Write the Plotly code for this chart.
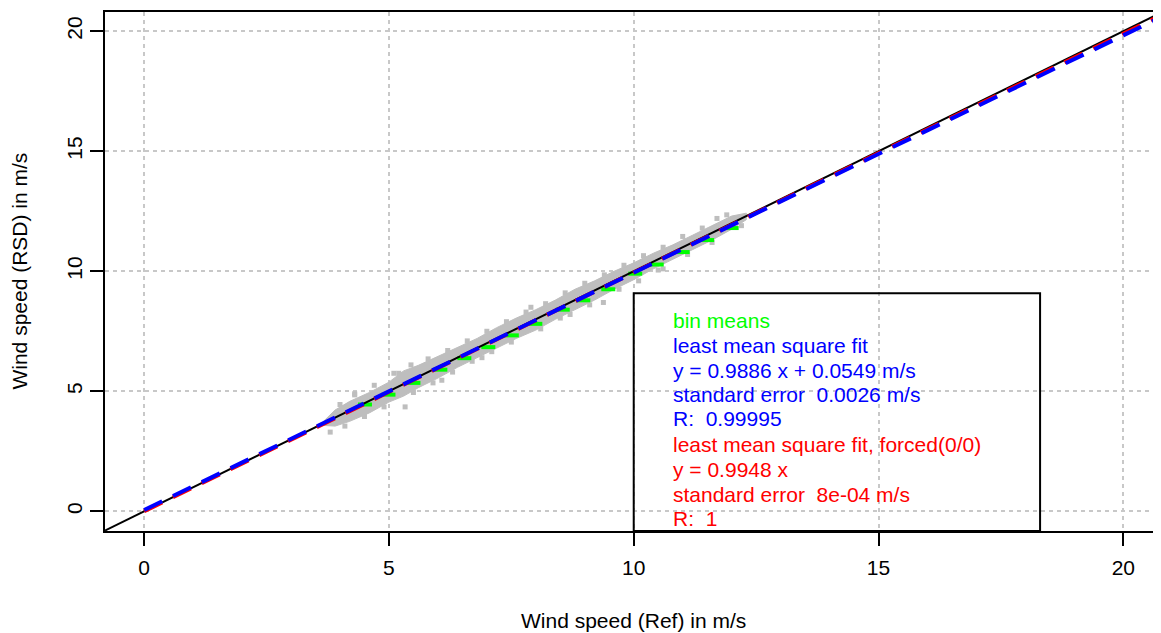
import plotly.graph_objects as go

# ---------------- data ----------------
tick_vals = [0, 5, 10, 15, 20]
tick_text = ["0", "5", "10", "15", "20"]

# scatter cloud outline (RSD vs Ref)
cloud_upper_x = [3.65, 3.9, 4.2, 4.6, 5.0, 5.3, 5.6, 6.0, 6.4, 6.8, 7.2, 7.6, 8.0, 8.4,
                 8.8, 9.2, 9.6, 10.0, 10.4, 10.8, 11.2, 11.6, 12.0, 12.3]
cloud_upper_y = [3.72, 4.22, 4.58, 4.95, 5.38, 5.85, 6.08, 6.45, 6.85, 7.2, 7.65, 8.05,
                 8.4, 8.8, 9.25, 9.6, 10.0, 10.35, 10.75, 11.1, 11.5, 11.9, 12.3, 12.42]
cloud_lower_x = [12.3, 12.0, 11.6, 11.2, 10.8, 10.4, 10.0, 9.6, 9.2, 8.8, 8.4, 8.0, 7.6,
                 7.2, 6.8, 6.4, 6.0, 5.6, 5.3, 5.0, 4.6, 4.2, 3.9, 3.65]
cloud_lower_y = [12.15, 11.75, 11.3, 10.9, 10.5, 10.1, 9.65, 9.25, 8.8, 8.4, 8.0, 7.55,
                 7.2, 6.8, 6.4, 6.0, 5.55, 5.15, 4.8, 4.55, 4.1, 3.75, 3.55, 3.58]
# isolated / edge points of the cloud
outlier_x = [5.33, 6.08, 8.5, 9.38, 4.3, 7.9, 10.6, 11.7, 5.1, 6.9, 3.8,
             4.0, 4.3, 4.7, 5.2, 5.45, 5.8, 6.2, 6.6, 7.0, 7.4, 7.8, 8.2, 8.6, 9.0,
             9.4, 9.8, 10.2, 10.6, 11.0, 11.4, 11.9,
             4.1, 4.5, 4.9, 5.5, 5.9, 6.3, 6.7, 7.1, 7.5, 8.1, 8.7, 9.1, 9.7, 10.1,
             10.5, 11.1, 11.6, 12.2]
outlier_y = [4.35, 5.46, 8.05, 8.7, 4.9, 8.5, 10.1, 12.2, 5.75, 6.4, 3.3,
             4.45, 4.85, 5.25, 5.75, 6.1, 6.35, 6.7, 7.1, 7.5, 7.9, 8.3, 8.65, 9.1, 9.5,
             9.85, 10.25, 10.65, 11.0, 11.45, 11.8, 12.35,
             3.55, 3.95, 4.35, 4.95, 5.35, 5.8, 6.25, 6.65, 7.05, 7.6, 8.2, 8.6, 9.25, 9.6,
             10.05, 10.7, 11.2, 11.9]

# bin means (green)
bin_x = [4.51, 4.99, 5.50, 6.05, 6.54, 7.03, 7.51, 7.99, 8.55, 8.97, 9.48, 10.03, 10.47,
         11.0, 11.5, 12.0]
bin_y = [4.45, 4.86, 5.35, 5.90, 6.38, 6.84, 7.33, 7.81, 8.40, 8.79, 9.25, 9.90, 10.28,
         10.8, 11.3, 11.8]

# fitted lines (end points) and 1:1 line
fit_x = [0.0, 20.8]
lms_y = [0.0549, 20.6178]      # y = 0.9886 x + 0.0549
forced_y = [0.0, 20.6918]      # y = 0.9948 x
one_x = [-0.8, 20.8]
one_y = [-0.8, 20.8]

legend_lines = [
    ("bin means", "#00FF00"),
    ("least mean square fit", "#0000FF"),
    ("y = 0.9886 x + 0.0549 m/s", "#0000FF"),
    ("standard error\u00a0\u00a00.0026 m/s", "#0000FF"),
    ("R:\u00a0\u00a00.99995", "#0000FF"),
    ("least mean square fit, forced(0/0)", "#FF0000"),
    ("y = 0.9948 x", "#FF0000"),
    ("standard error\u00a0\u00a08e-04 m/s", "#FF0000"),
    ("R:\u00a0\u00a01", "#FF0000"),
]
legend_y = [7.96, 6.92, 5.875, 4.86, 3.86, 2.79, 1.75, 0.71, -0.30]

FONT = "Liberation Sans, Arial, sans-serif"
GRAY = "#BEBEBE"
FS = 21

fig = go.Figure()

fig.add_trace(go.Scatter(
    x=cloud_upper_x + cloud_lower_x, y=cloud_upper_y + cloud_lower_y,
    mode="lines", fill="toself", fillcolor=GRAY,
    line=dict(color=GRAY, width=1), hoverinfo="skip", showlegend=False))
fig.add_trace(go.Scatter(
    x=outlier_x, y=outlier_y, mode="markers",
    marker=dict(symbol="square", size=5, color=GRAY), showlegend=False))
fig.add_trace(go.Scatter(
    x=bin_x, y=bin_y, mode="markers",
    marker=dict(symbol="line-ew", size=10, line=dict(color="#00FF00", width=4)),
    showlegend=False))
fig.add_trace(go.Scatter(
    x=one_x, y=one_y, mode="lines", line=dict(color="black", width=2), showlegend=False))
fig.add_trace(go.Scatter(
    x=fit_x, y=forced_y, mode="lines",
    line=dict(color="#FF0000", width=4, dash="20px,12px"), showlegend=False))
fig.add_trace(go.Scatter(
    x=fit_x, y=lms_y, mode="lines",
    line=dict(color="#0000FF", width=4, dash="20px,12px"), showlegend=False))

# legend box
fig.add_shape(type="rect", xref="x", yref="y", x0=10.0, x1=18.3, y0=-0.82, y1=9.08,
              line=dict(color="black", width=2), fillcolor="rgba(0,0,0,0)")

for (txt, col), yy in zip(legend_lines, legend_y):
    fig.add_annotation(x=10.77, y=yy, xref="x", yref="y", text=txt, showarrow=False,
                       xanchor="left", yanchor="middle",
                       font=dict(family=FONT, size=FS, color=col))

# axis titles
fig.add_annotation(x=0.5, y=-0.172, xref="paper", yref="paper",
                   text="Wind speed (Ref) in m/s", showarrow=False,
                   xanchor="center", yanchor="middle",
                   font=dict(family=FONT, size=FS, color="black"))
fig.add_annotation(x=-0.0814, y=0.5, xref="paper", yref="paper",
                   text="Wind speed (RSD) in m/s", showarrow=False, textangle=-90,
                   xanchor="center", yanchor="middle",
                   font=dict(family=FONT, size=FS, color="black"))

axis_common = dict(
    tickvals=tick_vals, ticktext=tick_text, ticks="outside", ticklen=13, tickwidth=2,
    tickcolor="black", showline=True, linecolor="black", linewidth=2,
    showgrid=True, gridcolor="#C8C8C8", gridwidth=2, griddash="4px,4px",
    zeroline=False, automargin=False,
    tickfont=dict(family=FONT, size=FS, color="black"),
)

# the page body adds an 8px margin, so the figure is 8px smaller than the window
fig.update_layout(
    width=1153, height=625,
    margin=dict(l=97, r=0, t=4, b=102),
    paper_bgcolor="white", plot_bgcolor="white",
    xaxis=dict(range=[-0.8, 20.77], mirror=True, ticklabelstandoff=4, **axis_common),
    yaxis=dict(range=[-0.82, 20.8], tickangle=-90, **axis_common),
    showlegend=False,
)

fig.write_html("out.html")
